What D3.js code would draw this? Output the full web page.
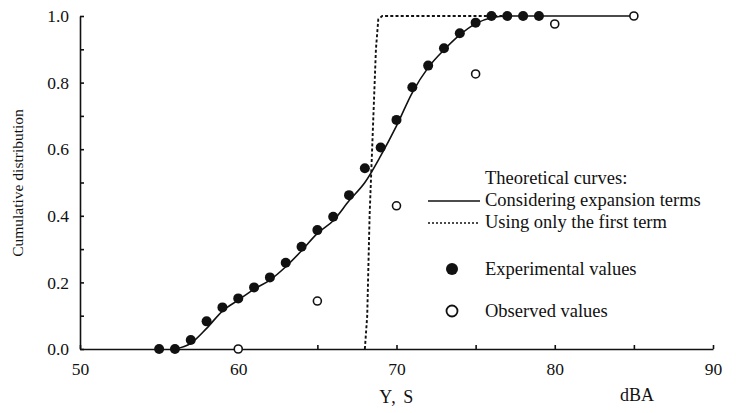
<!DOCTYPE html>
<html>
<head>
<meta charset="utf-8">
<script src="https://cdn.jsdelivr.net/npm/d3@7"></script>
<style>
	body { margin: 0; background: #fff; }
	svg text { font-family: "Liberation Serif", "Times New Roman", serif; fill: #111; }
	.axis path, .axis line { stroke: #111; stroke-width: 1.6; }
</style>
</head>
<body>
<script>
// experimental values (filled dots)
const expX = [55, 56, 57, 58, 59, 60, 61, 62, 63, 64, 65, 66, 67, 68, 69, 70, 71, 72, 73, 74, 75, 76, 77, 78, 79];
const expY = [0, 0, 0.027, 0.083, 0.125, 0.152, 0.185, 0.215, 0.259, 0.307, 0.357, 0.397, 0.462, 0.543, 0.605, 0.688, 0.786, 0.851, 0.903, 0.948, 0.98, 1.0, 1.0, 1.0, 1.0];

// observed values (open circles)
const obsX = [60, 65, 70, 75, 80, 85];
const obsY = [0, 0.144, 0.43, 0.826, 0.976, 1.0];

// theoretical curve, considering expansion terms
const fullX = [56, 57, 58, 59, 60, 61, 62, 63, 64, 65, 66, 67, 68, 69, 70, 71, 72, 73, 74, 75, 76, 77, 85];
const fullY = [0, 0.017, 0.062, 0.114, 0.147, 0.18, 0.207, 0.247, 0.295, 0.347, 0.385, 0.445, 0.5, 0.58, 0.67, 0.77, 0.845, 0.898, 0.943, 0.977, 0.995, 1.0, 1.0];

// theoretical curve, using only the first term
const firstX = [68.0, 68.15, 68.3, 68.5, 68.7, 68.85, 69.1, 77];
const firstY = [0, 0.1, 0.4, 0.65, 0.9, 0.99, 1.0, 1.0];

const xTicks = [50, 55, 60, 65, 70, 75, 80, 85, 90];
const yTicks = [0, 0.1, 0.2, 0.3, 0.4, 0.5, 0.6, 0.7, 0.8, 0.9, 1.0];

const width = 736,
	height = 413;

const svg = d3.select("body")
	.append("svg")
	.attr("width", width)
	.attr("height", height);

const x = d3.scaleLinear().domain([50, 90]).range([80, 713]);
const y = d3.scaleLinear().domain([0, 1]).range([349, 16]);

const xAxis = d3.axisBottom(x)
	.tickValues(xTicks)
	.tickSizeInner(-4)
	.tickSizeOuter(0)
	.tickPadding(14)
	.tickFormat(d => d % 10 === 0 ? d : "");

const yAxis = d3.axisLeft(y)
	.tickValues(yTicks)
	.tickSizeInner(-4)
	.tickSizeOuter(0)
	.tickPadding(11)
	.tickFormat(d => Math.round(d * 10) % 2 === 0 ? d3.format(".1f")(d) : "");

svg.append("g")
	.attr("class", "axis")
	.attr("transform", "translate(0," + y(0) + ")")
	.call(xAxis)
	.selectAll("text")
	.attr("font-size", 17.5);

svg.append("g")
	.attr("class", "axis")
	.attr("transform", "translate(" + x(50) + ",0)")
	.call(yAxis)
	.selectAll("text")
	.attr("font-size", 17.5);

svg.selectAll(".axis text").style("font-family", '"Liberation Serif", serif');

// axis titles
svg.append("text")
	.attr("x", 397)
	.attr("y", 403)
	.attr("text-anchor", "middle")
	.attr("font-size", 18)
	.attr("letter-spacing", 1.5)
	.text("Y, S");

svg.append("text")
	.attr("x", 637)
	.attr("y", 401)
	.attr("text-anchor", "middle")
	.attr("font-size", 18)
	.text("dBA");

svg.append("text")
	.attr("transform", "translate(23,183) rotate(-90)")
	.attr("text-anchor", "middle")
	.attr("font-size", 15.5)
	.text("Cumulative distribution");

const line = d3.line()
	.x(d => x(d[0]))
	.y(d => y(d[1]));

svg.append("path")
	.attr("d", line.curve(d3.curveLinear)(d3.zip(firstX, firstY)))
	.attr("fill", "none")
	.attr("stroke", "#111")
	.attr("stroke-width", 1.9)
	.attr("stroke-dasharray", "3,2.2");

svg.append("path")
	.attr("d", line.curve(d3.curveMonotoneX)(d3.zip(fullX, fullY)))
	.attr("fill", "none")
	.attr("stroke", "#111")
	.attr("stroke-width", 1.6);

svg.selectAll(".exp")
	.data(d3.zip(expX, expY))
	.enter()
	.append("circle")
	.attr("class", "exp")
	.attr("cx", d => x(d[0]))
	.attr("cy", d => y(d[1]))
	.attr("r", 5)
	.attr("fill", "#111");

svg.selectAll(".obs")
	.data(d3.zip(obsX, obsY))
	.enter()
	.append("circle")
	.attr("class", "obs")
	.attr("cx", d => x(d[0]))
	.attr("cy", d => y(d[1]))
	.attr("r", 4)
	.attr("fill", "#fff")
	.attr("stroke", "#111")
	.attr("stroke-width", 1.6);

// legend
const legend = svg.append("g");
const lx = 485;

legend.append("text").attr("x", lx).attr("y", 184).attr("font-size", 18.5).text("Theoretical curves:");
legend.append("text").attr("x", lx).attr("y", 206).attr("font-size", 18.5).text("Considering expansion terms");
legend.append("text").attr("x", lx).attr("y", 228).attr("font-size", 18.5).text("Using only the first term");
legend.append("text").attr("x", lx).attr("y", 275).attr("font-size", 18.5).text("Experimental values");
legend.append("text").attr("x", lx).attr("y", 317).attr("font-size", 18.5).text("Observed values");

legend.append("line")
	.attr("x1", 428).attr("x2", 480).attr("y1", 201).attr("y2", 201)
	.attr("stroke", "#111").attr("stroke-width", 1.6);
legend.append("line")
	.attr("x1", 428).attr("x2", 480).attr("y1", 223).attr("y2", 223)
	.attr("stroke", "#111").attr("stroke-width", 1.4)
	.attr("stroke-dasharray", "2,2");
legend.append("circle")
	.attr("cx", 452).attr("cy", 269).attr("r", 6).attr("fill", "#111");
legend.append("circle")
	.attr("cx", 452).attr("cy", 311).attr("r", 5.5)
	.attr("fill", "#fff").attr("stroke", "#111").attr("stroke-width", 1.8);
</script>
</body>
</html>
